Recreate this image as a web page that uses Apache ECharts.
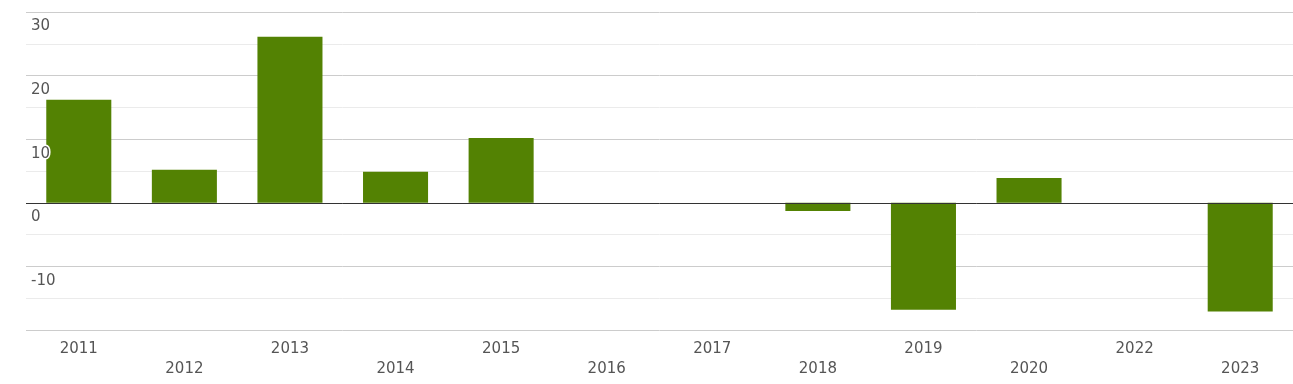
<!DOCTYPE html>
<html>
<head>
<meta charset="utf-8">
<script src="https://cdn.jsdelivr.net/npm/echarts@6/dist/echarts.min.js"></script>
<style>
html,body{margin:0;padding:0;background:#fff;}
#chart{width:1293px;height:384px;}
</style>
</head>
<body>
<div id="chart"></div>
<script>
const categories = ['2011','2012','2013','2014','2015','2016','2017','2018','2019','2020','2022','2023'];
const values = [16.2, 5.2, 26.1, 4.9, 10.2, 0, 0, -1.3, -16.8, 3.9, 0, -17.1];
const yMin = -20, yMax = 30, yStep = 10;

const chart = echarts.init(document.getElementById('chart'));
const font = 'DejaVu Sans';
chart.setOption({
  animation: false,
  grid: { left: 26, right: 0, top: 12, bottom: 54, containLabel: false },
  xAxis: {
    type: 'category',
    data: categories,
    axisLine: { show: false },
    axisTick: { show: false },
    axisLabel: {
      interval: 0,
      margin: 9,
      fontFamily: font,
      fontSize: 15,
      lineHeight: 20,
      color: '#555',
      formatter: (v, i) => (i % 2 ? '\n' + v : v)
    }
  },
  yAxis: [
    {
      type: 'value', min: yMin, max: yMax, interval: yStep,
      axisLine: { show: false }, axisTick: { show: false },
      axisLabel: { show: false },
      splitLine: { show: true, lineStyle: { color: '#cccccc', width: 1 } },
      minorTick: { show: false, splitNumber: 2 },
      minorSplitLine: { show: true, lineStyle: { color: '#ebebeb', width: 1 } }
    },
    {
      type: 'value', min: yMin, max: yMax, interval: yStep, position: 'left', z: 10,
      axisLine: { show: false }, axisTick: { show: false },
      splitLine: { show: false },
      axisLabel: {
        inside: true, margin: 5, fontFamily: font, fontSize: 15, color: '#555',
        verticalAlign: 'top', padding: [7, 0, 0, 0],
        textBorderColor: '#fff', textBorderWidth: 3,
        formatter: v => (v === yMin ? '' : String(v))
      }
    }
  ],
  series: [{
    type: 'bar',
    data: values,
    barWidth: '61.6%',
    itemStyle: { color: '#538203' },
    markLine: {
      silent: true, symbol: 'none',
      label: { show: false },
      lineStyle: { color: '#333', width: 1, type: 'solid' },
      data: [{ yAxis: 0 }]
    }
  }]
});
</script>
</body>
</html>
